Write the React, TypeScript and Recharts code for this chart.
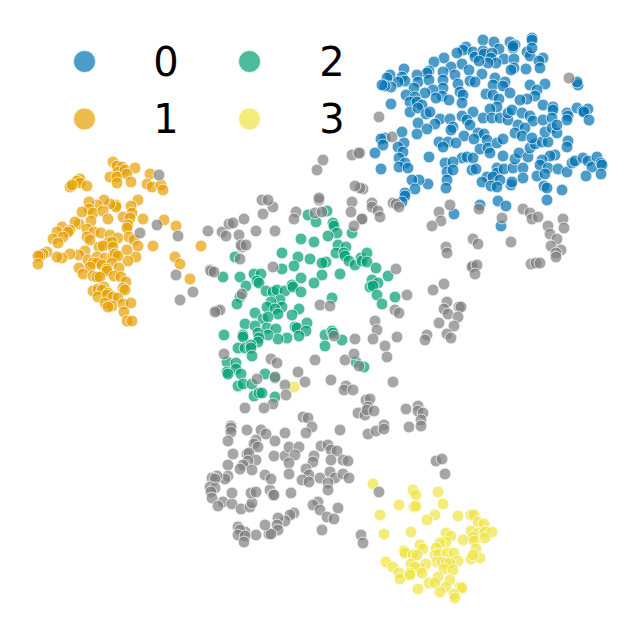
import { Legend, Scatter, ScatterChart, XAxis, YAxis } from "recharts";

const labels = ["0", "1", "2", "3"];
const colors = ["#0072B2", "#E69F00", "#009E73", "#F0E442"];
const noiseColor = "#808080";

const cluster0 = [[483,40],[494,42],[532,38],[532,40],[510,42],[515,45],[513,48],[513,46],[466,47],[463,50],[457,53],[473,52],[475,57],[483,51],[484,54],[499,49],[492,53],[491,58],[504,59],[514,59],[527,52],[530,56],[532,48],[543,58],[539,61],[540,68],[526,69],[514,68],[511,70],[496,63],[488,63],[479,61],[444,58],[434,62],[462,64],[451,67],[443,72],[469,70],[455,75],[482,74],[429,71],[427,73],[417,75],[404,69],[390,75],[387,78],[402,77],[405,81],[398,82],[391,87],[385,86],[382,85],[418,82],[429,80],[443,80],[458,84],[470,81],[475,82],[495,78],[505,82],[493,85],[503,86],[460,92],[463,95],[443,88],[433,90],[425,93],[414,88],[406,95],[415,97],[442,96],[436,98],[449,100],[462,103],[486,94],[493,95],[499,99],[510,93],[530,85],[545,84],[537,90],[535,96],[527,99],[520,100],[391,104],[410,102],[417,102],[422,105],[410,112],[418,108],[426,114],[430,112],[497,107],[490,109],[473,112],[462,116],[440,119],[450,119],[418,123],[435,124],[427,129],[417,134],[453,127],[451,130],[467,120],[470,125],[483,118],[492,118],[500,118],[508,120],[508,113],[512,110],[522,113],[530,116],[533,121],[543,105],[553,107],[553,110],[543,120],[552,118],[567,113],[568,116],[567,120],[577,108],[583,111],[588,109],[584,112],[589,120],[518,125],[525,128],[515,133],[522,136],[464,136],[478,133],[484,134],[474,139],[487,140],[402,132],[385,138],[381,139],[383,145],[375,153],[404,143],[398,147],[403,152],[399,158],[405,163],[399,167],[408,168],[381,169],[429,157],[439,142],[448,142],[443,147],[456,143],[480,149],[488,148],[490,153],[497,143],[503,139],[503,156],[462,158],[467,157],[473,158],[445,163],[453,162],[447,172],[453,170],[472,170],[476,169],[497,168],[497,173],[487,177],[493,177],[482,182],[500,180],[491,186],[497,187],[511,185],[512,182],[504,169],[513,168],[515,159],[519,153],[528,157],[523,168],[523,178],[530,148],[535,144],[542,142],[548,142],[532,138],[545,132],[552,128],[557,133],[557,125],[568,141],[567,147],[555,155],[550,156],[542,160],[540,165],[548,168],[537,176],[545,174],[558,169],[567,172],[572,163],[575,161],[583,158],[588,161],[592,167],[597,157],[601,163],[602,165],[601,174],[586,176],[544,186],[547,188],[562,190],[547,200],[498,201],[506,206],[480,205],[454,214],[501,226],[447,180],[446,188],[428,184],[419,180],[412,180],[415,189],[405,193],[405,196],[402,202],[578,85],[577,82]];

const cluster1 = [[113,162],[117,166],[122,167],[118,172],[125,170],[135,168],[110,177],[117,177],[127,174],[117,183],[131,182],[150,174],[147,184],[152,187],[161,185],[163,190],[80,179],[77,181],[80,183],[70,187],[72,185],[87,186],[138,200],[131,206],[116,205],[116,207],[110,204],[104,200],[97,205],[89,202],[89,209],[82,212],[93,213],[103,211],[132,213],[123,217],[130,218],[108,219],[91,221],[128,225],[127,228],[143,219],[164,220],[176,226],[153,246],[201,246],[175,257],[180,264],[190,279],[79,224],[75,222],[62,227],[70,230],[57,232],[68,232],[63,237],[53,239],[58,243],[87,229],[94,232],[101,233],[110,235],[87,237],[90,240],[118,238],[108,243],[112,242],[129,237],[134,240],[138,246],[99,247],[103,246],[113,247],[127,250],[136,257],[128,261],[85,251],[79,255],[70,254],[62,258],[57,257],[47,252],[43,254],[40,256],[38,256],[38,264],[88,260],[97,257],[105,258],[113,256],[115,254],[118,256],[93,263],[97,263],[90,267],[102,265],[112,263],[119,268],[79,268],[83,274],[107,269],[107,271],[93,276],[97,277],[100,277],[114,276],[121,277],[126,282],[123,288],[125,290],[93,291],[98,289],[104,287],[102,290],[98,297],[108,293],[107,295],[113,297],[118,298],[105,303],[112,306],[108,307],[123,304],[131,303],[124,312],[127,321],[132,321]];

const cluster2 = [[327,211],[308,215],[316,222],[333,223],[334,226],[337,233],[328,236],[352,233],[301,239],[314,242],[338,245],[346,247],[336,253],[344,253],[345,256],[349,261],[355,265],[361,258],[362,261],[367,253],[367,262],[376,268],[388,276],[340,274],[322,275],[314,283],[301,278],[326,262],[322,263],[310,259],[298,257],[294,266],[282,253],[282,269],[235,257],[223,277],[240,277],[254,274],[261,274],[257,281],[259,283],[246,286],[266,291],[273,292],[277,290],[285,291],[292,285],[293,287],[301,292],[240,297],[237,304],[280,300],[271,302],[267,307],[282,307],[275,309],[278,314],[299,309],[292,315],[332,298],[372,280],[378,283],[370,287],[373,286],[377,295],[395,297],[382,304],[255,313],[263,319],[268,317],[245,324],[255,326],[267,328],[276,329],[307,323],[295,327],[297,328],[306,331],[299,336],[287,338],[278,339],[268,335],[258,333],[259,338],[258,342],[224,335],[243,335],[243,337],[238,348],[245,348],[251,345],[251,348],[252,356],[325,335],[332,331],[333,333],[342,340],[325,346],[356,362],[364,367],[227,362],[236,363],[227,372],[236,369],[241,374],[228,374],[238,386],[243,384],[252,384],[265,374],[275,378],[254,396],[259,393],[262,393],[275,397]];

const cluster3 = [[294,387],[373,484],[413,490],[416,495],[438,492],[399,505],[414,507],[416,506],[443,504],[380,515],[435,515],[427,520],[458,516],[471,515],[474,515],[478,522],[484,524],[384,534],[411,532],[471,531],[478,533],[485,532],[492,532],[473,537],[485,538],[474,541],[463,540],[446,533],[451,536],[446,542],[440,543],[420,545],[423,549],[404,551],[405,553],[413,555],[417,555],[436,548],[435,555],[439,554],[447,553],[454,553],[476,549],[471,559],[480,558],[473,555],[458,561],[437,562],[442,562],[446,563],[450,563],[411,564],[426,564],[386,562],[393,567],[444,569],[453,570],[420,568],[415,567],[399,573],[410,573],[422,573],[400,579],[410,575],[438,577],[450,580],[429,583],[435,583],[418,589],[446,587],[440,592],[460,587],[462,588],[454,594],[455,598]];

const noise = [[569,78],[379,117],[392,137],[360,153],[363,189],[360,188],[372,203],[372,207],[378,211],[380,217],[362,219],[393,203],[396,204],[399,207],[450,205],[439,212],[441,221],[432,226],[479,209],[502,218],[523,209],[530,213],[532,219],[538,217],[563,219],[564,228],[548,226],[550,234],[473,239],[478,244],[511,242],[446,247],[447,253],[473,266],[472,267],[477,265],[475,274],[557,239],[551,246],[561,250],[556,253],[556,257],[531,264],[536,263],[540,263],[444,284],[433,290],[396,269],[407,295],[447,302],[444,309],[448,314],[459,307],[461,307],[458,317],[439,323],[454,326],[447,334],[451,338],[427,335],[425,340],[395,310],[399,313],[375,321],[377,330],[373,339],[397,337],[385,346],[387,357],[208,231],[222,232],[226,236],[229,224],[233,223],[244,219],[239,235],[256,231],[275,231],[263,214],[273,207],[262,200],[268,200],[242,247],[241,245],[246,245],[240,259],[210,270],[211,271],[214,272],[273,267],[296,212],[294,219],[315,213],[322,212],[319,200],[352,202],[351,212],[362,219],[354,226],[320,305],[330,306],[242,294],[217,311],[220,310],[355,339],[315,360],[345,360],[354,354],[359,366],[224,354],[271,359],[277,363],[298,372],[305,382],[275,377],[257,379],[285,385],[286,395],[331,380],[346,386],[344,390],[353,390],[393,382],[273,404],[264,408],[245,408],[366,400],[370,399],[368,407],[406,409],[418,406],[334,336],[303,417],[308,418],[312,427],[306,433],[231,426],[231,428],[231,432],[228,441],[247,430],[261,430],[266,434],[285,433],[275,441],[256,440],[254,444],[258,447],[233,454],[247,454],[249,453],[256,460],[248,461],[243,465],[240,469],[252,470],[228,465],[228,476],[225,479],[217,476],[212,478],[215,479],[210,487],[215,488],[211,492],[212,498],[223,502],[218,506],[232,504],[232,493],[241,509],[250,507],[252,503],[251,493],[256,492],[270,490],[273,495],[274,495],[265,475],[271,479],[274,456],[285,456],[289,447],[299,447],[295,455],[289,463],[289,474],[291,493],[314,456],[313,462],[306,469],[309,475],[302,480],[309,482],[320,478],[321,446],[328,445],[331,450],[337,451],[331,460],[343,460],[348,461],[330,472],[335,478],[343,474],[349,478],[328,483],[328,490],[340,430],[368,434],[376,431],[384,425],[384,429],[358,413],[365,415],[367,410],[374,411],[379,492],[318,502],[313,505],[320,510],[338,508],[327,517],[334,519],[322,530],[294,513],[290,515],[285,521],[278,518],[277,525],[278,530],[269,534],[271,534],[265,525],[256,535],[245,532],[238,527],[240,530],[238,535],[245,536],[244,542],[361,535],[363,543],[445,474],[436,461],[442,459],[418,411],[423,413],[421,420],[409,427],[421,426],[323,160],[352,155],[359,153],[317,170],[319,198],[355,186],[159,175],[140,233],[157,225],[178,236],[176,275],[193,292],[180,300],[215,312]];

const toRows = (pairs: number[][]) => pairs.map(([x, y]) => ({ x, y }));

const Dot = (props: any) => (
  <circle
    cx={props.cx}
    cy={props.cy}
    r={5.9}
    fill={props.color}
    fillOpacity={0.7}
    stroke="#fff"
    strokeOpacity={0.7}
    strokeWidth={1}
  />
);

const KeyBlock = () => (
  <svg width={360} height={150} style={{ display: "block" }}>
    {labels.map((label, i) => {
      const col = Math.floor(i / 2);
      const row = i % 2;
      const cy = 61.5 + row * 57.5;
      return (
        <g key={label}>
          <circle cx={84.5 + col * 165} cy={cy} r={11} fill={colors[i]} fillOpacity={0.7} stroke="#fff" strokeOpacity={0.7} />
          <text
            x={166 + col * 166}
            y={76 + row * 57}
            textAnchor="middle"
            fontFamily="DejaVu Sans"
            fontSize={40}
            fill="#000"
          >
            {label}
          </text>
        </g>
      );
    })}
  </svg>
);

const App = () => {
  const groups = [cluster0, cluster1, cluster2, cluster3];

  return (
    <div style={{ position: "absolute", left: 0, top: 0, width: 640, height: 636, background: "#fff" }}>
      <ScatterChart width={640} height={636} margin={{ top: 0, right: 0, bottom: 0, left: 0 }}>
        <XAxis type="number" dataKey="x" domain={[0, 640]} hide />
        <YAxis type="number" dataKey="y" domain={[0, 636]} reversed hide />
        {groups.map((group, i) => (
          <Scatter
            key={labels[i]}
            name={labels[i]}
            data={toRows(group)}
            isAnimationActive={false}
            shape={(p: any) => <Dot {...p} color={colors[i]} />}
          />
        ))}
        <Scatter
          name="noise"
          data={toRows(noise)}
          isAnimationActive={false}
          shape={(p: any) => <Dot {...p} color={noiseColor} />}
        />
        <Legend
          layout="horizontal"
          verticalAlign="middle"
          wrapperStyle={{ position: "absolute", left: 0, top: 0, width: 360, height: 150 }}
          content={() => <KeyBlock />}
        />
      </ScatterChart>
    </div>
  );
};

export default App;
